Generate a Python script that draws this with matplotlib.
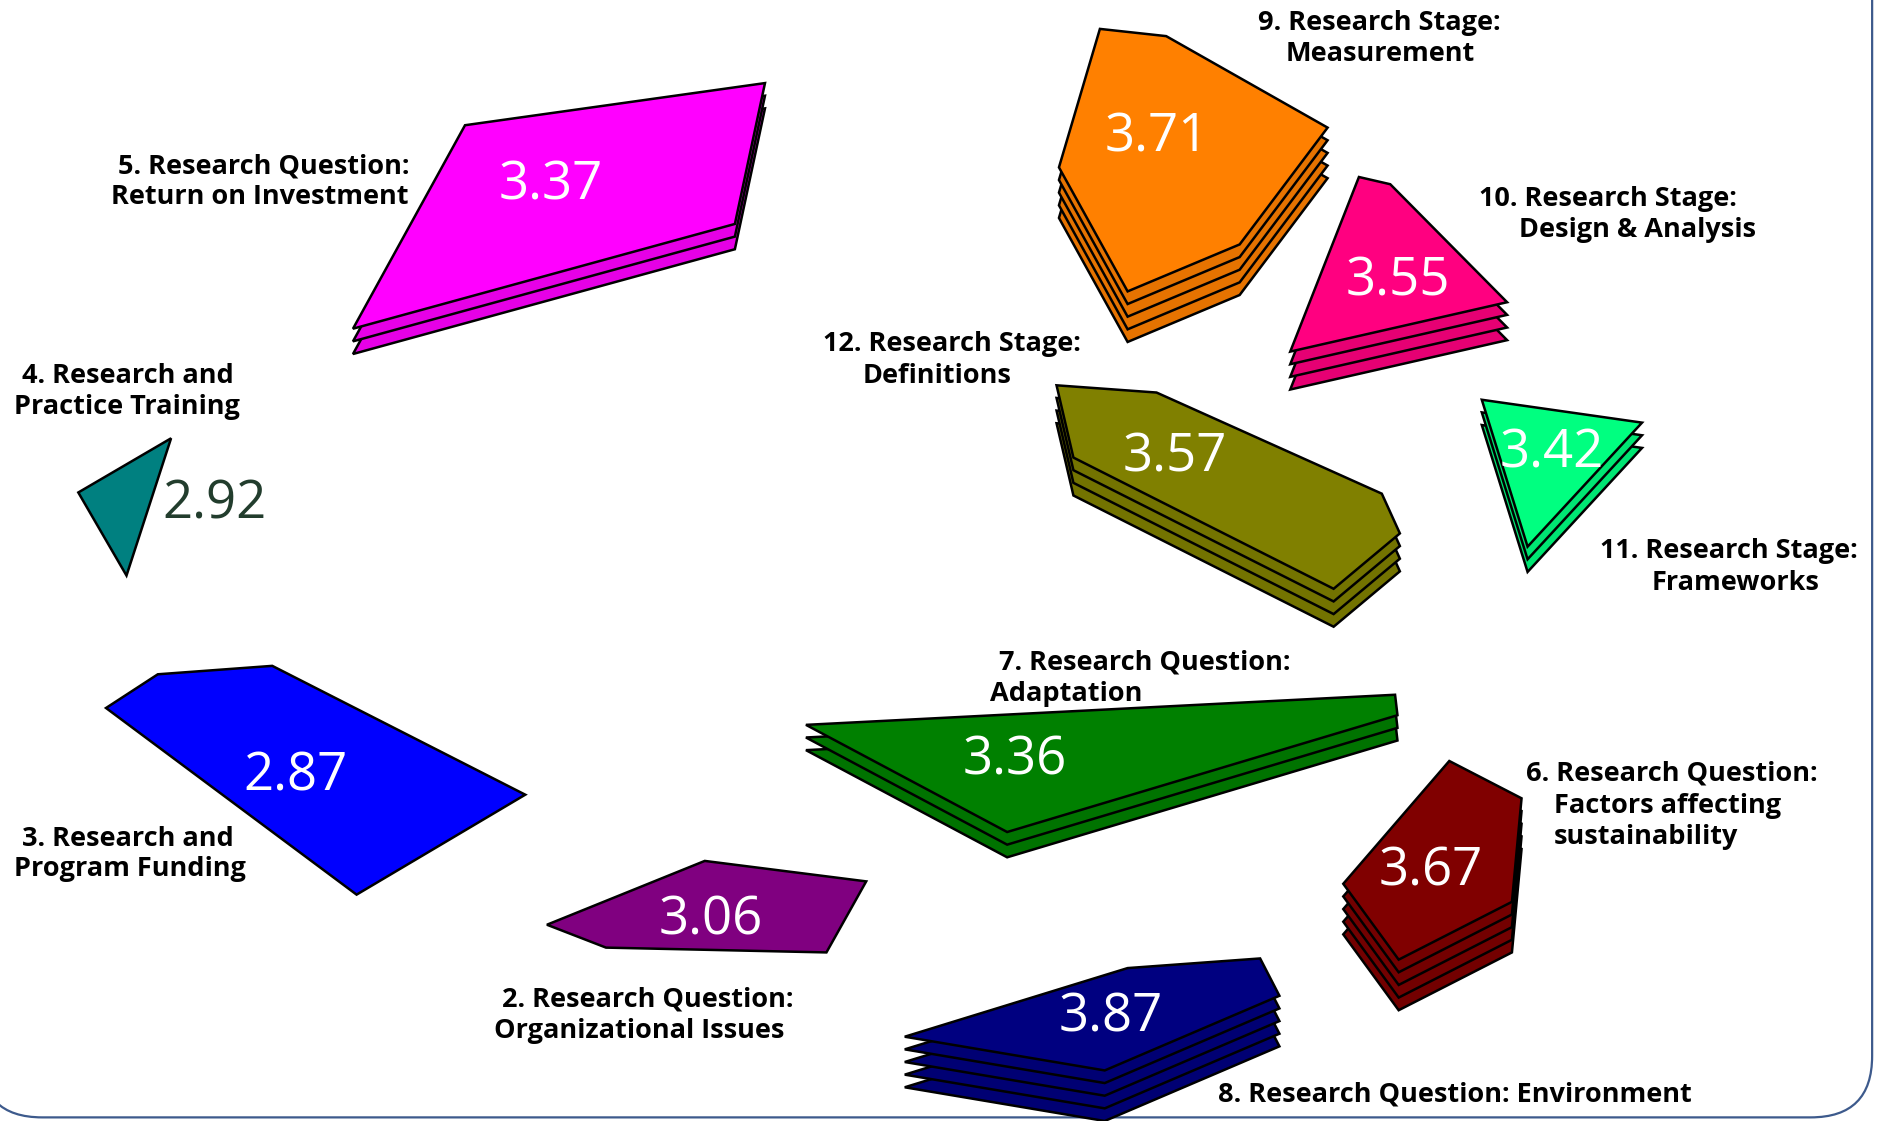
import matplotlib.pyplot as plt
from matplotlib.patches import Polygon, FancyBboxPatch
from matplotlib.colors import to_rgb

plt.rcParams['font.family'] = ['Open Sans', 'DejaVu Sans']

# cluster map data (map units, y grows downward)
cluster_ids = [2, 3, 4, 5, 6, 7, 8, 9, 10, 11, 12]
ratings = [3.06, 2.87, 2.92, 3.37, 3.67, 3.36, 3.87, 3.71, 3.55, 3.42, 3.57]
layers = [1, 1, 1, 3, 5, 3, 5, 5, 4, 3, 4]
colors = ['#800080', '#0000FF', '#008080', '#FF00FF', '#800000', '#008000',
          '#000080', '#FF8000', '#FF0080', '#00FF80', '#808000']

shape_2 = [(454, 768), (585, 715), (719, 732), (686, 791), (503, 787)]
shape_3 = [(88, 588), (131, 560), (226, 553), (436, 660), (296, 743)]
shape_4 = [(65, 409), (142, 364), (105, 478)]
shape_5 = [(386, 104), (635, 69), (610, 186), (293, 273)]
shape_6 = [(1203, 632), (1263, 663), (1255, 749), (1161, 797), (1115, 734)]
shape_7 = [(669, 602), (1158, 577), (1160, 594), (836, 691)]
shape_8 = [(751, 861), (936, 804), (1046, 796), (1062, 827), (917, 889)]
shape_9 = [(913, 24), (968, 30), (1102, 106), (1029, 203), (936, 242), (879, 139)]
shape_10 = [(1128, 147), (1154, 153), (1251, 251), (1071, 292)]
shape_11 = [(1230, 332), (1363, 351), (1268, 454)]
shape_12 = [(877, 320), (960, 326), (1147, 410), (1162, 443), (1107, 489), (891, 380)]
shapes = [shape_2, shape_3, shape_4, shape_5, shape_6, shape_7, shape_8,
          shape_9, shape_10, shape_11, shape_12]

value_pos = [(590, 761), (245, 641), (178, 415), (457, 150), (1188, 720), (842, 628),
             (922, 841), (960, 110), (1160, 230), (1288, 373), (975, 376)]

label_lines = [
    [('2. Research Question:', 417, 828), ('Organizational Issues', 410, 854)],
    [('3. Research and', 18, 695), ('Program Funding', 12, 720)],
    [('4. Research and', 18, 310), ('Practice Training', 12, 336)],
    [('5. Research Question:', 98, 136), ('Return on Investment', 92, 162)],
    [('6. Research Question:', 1267, 640), ('Factors affecting', 1290, 667),
     ('sustainability', 1290, 693)],
    [('7. Research Question:', 829, 548), ('Adaptation', 822, 574)],
    [('8. Research Question: Environment', 1011, 907)],
    [('9. Research Stage:', 1044, 17), ('Measurement', 1067, 43)],
    [('10. Research Stage:', 1228, 163), ('Design & Analysis', 1261, 189)],
    [('11. Research Stage:', 1328, 456), ('Frameworks', 1371, 482)],
    [('12. Research Stage:', 683, 284), ('Definitions', 716, 310)],
]

LAYER_STEP = 10.5
W, H = 1568, 931

fig = plt.figure(figsize=(18.89, 11.21), dpi=100)
ax = fig.add_axes([0, 0, 1, 1])
ax.set_xlim(0, W)
ax.set_ylim(H, 0)
ax.axis('off')

# frame (only the lower corners fall inside the picture)
frame = FancyBboxPatch((-16, -400), 1554 + 16, 928 + 400,
                       boxstyle="round,pad=0,rounding_size=51",
                       facecolor='none', edgecolor='#3d5a8c', linewidth=1.6, zorder=1)
ax.add_patch(frame)

for i, cid in enumerate(cluster_ids):
    pts = shapes[i]
    base = to_rgb(colors[i])
    dark = tuple(c * 0.9 for c in base)
    for k in range(layers[i] - 1, -1, -1):
        off = k * LAYER_STEP
        poly = Polygon([(x, y + off) for x, y in pts], closed=True,
                       facecolor=base if k == 0 else dark,
                       edgecolor='black', linewidth=1.8, joinstyle='miter', zorder=2)
        ax.add_patch(poly)
    vx, vy = value_pos[i]
    tcolor = '#223d2d' if cid == 4 else 'white'
    ax.text(vx, vy + 4, f'{ratings[i]:.2f}', ha='center', va='center',
            fontsize=38, color=tcolor, zorder=3)
    for txt, lx, ly in label_lines[i]:
        ax.text(lx, ly + 2, txt, ha='left', va='center', fontsize=19.5,
                fontweight='bold', color='black', zorder=3)

fig.savefig('out.png', dpi=100, facecolor='white')
